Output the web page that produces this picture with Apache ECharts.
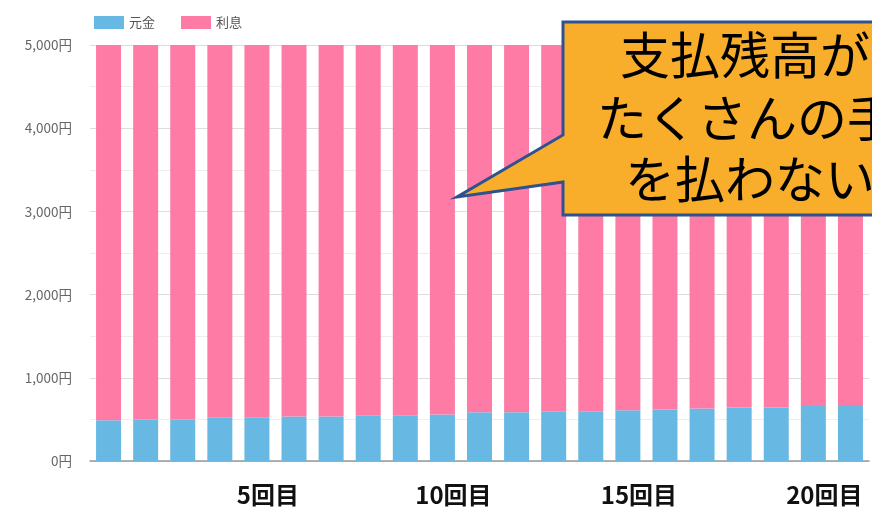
<!DOCTYPE html>
<html><head><meta charset="utf-8">
<script src="https://cdn.jsdelivr.net/npm/echarts@6/dist/echarts.min.js"></script>
<style>html,body{margin:0;padding:0;background:#fff}#c{width:872px;height:511px}</style>
</head><body><div id="c"></div>
<script>
const categories = ['1回目','2回目','3回目','4回目','5回目','6回目','7回目','8回目','9回目','10回目','11回目','12回目','13回目','14回目','15回目','16回目','17回目','18回目','19回目','20回目','21回目'];
const principal = [490,500,500,520,520,535,535,545,545,560,585,585,597,597,610,620,630,642,642,660,672];
const interest = [4510,4500,4500,4480,4480,4465,4465,4455,4455,4440,4415,4415,4403,4403,4390,4380,4370,4358,4358,4340,4328];
const yTicks = [0,1000,2000,3000,4000,5000];
const calloutLines = ['支払残高が','たくさんの手','を払わない'];

const chart = echarts.init(document.getElementById('c'));
const jp = '"Noto Sans CJK JP", sans-serif';
chart.setOption({
  animation:false,
  legend:{left:89,top:11,itemWidth:30,itemHeight:13,itemGap:26,icon:'rect',
    textStyle:{fontSize:13,color:'#555',fontFamily:jp},
    data:['元金','利息']},
  grid:{left:90,right:3,top:45,bottom:50},
  xAxis:{type:'category',data:categories,
    axisLine:{lineStyle:{color:'#999',width:1.5}},axisTick:{show:false},
    axisLabel:{interval:(i)=> (i+1)%5===0, margin:22,fontSize:24,fontWeight:'bold',color:'#111',fontFamily:jp,
      formatter:(v)=>v, padding:[0,0,0,22]}},
  yAxis:{type:'value',min:yTicks[0],max:yTicks[yTicks.length-1],interval:1000,
    axisLine:{show:false},axisTick:{show:false},
    axisLabel:{margin:18,fontSize:13.5,color:'#666',fontFamily:jp,
      formatter:(v)=>String(v).replace(/\B(?=(\d{3})+(?!\d))/g,',')+'円'},
    splitLine:{lineStyle:{color:'#ddd'}},
    minorTick:{show:false,splitNumber:2},
    minorSplitLine:{show:true,lineStyle:{color:'#eee'}}},
  series:[
    {name:'元金',type:'bar',stack:'t',data:principal,barWidth:25,itemStyle:{color:'#68b8e4'}},
    {name:'利息',type:'bar',stack:'t',data:interest,barWidth:25,itemStyle:{color:'#fd7ba5'}}
  ],
  graphic:[
    {type:'polygon',z:100,shape:{points:[[563,22],[900,22],[900,215],[563,215],[563,182],[457,197],[563,135]]},
      style:{fill:'#f8ae2b',stroke:'#2f528f',lineWidth:3,lineJoin:'miter'}},
    {type:'text',z:101,left:620,top:30,style:{text:calloutLines[0],font:'50px "Noto Sans CJK JP"',fill:'#000'}},
    {type:'text',z:101,left:597,top:93,style:{text:calloutLines[1],font:'50px "Noto Sans CJK JP"',fill:'#000'}},
    {type:'text',z:101,left:625,top:154,style:{text:calloutLines[2],font:'50px "Noto Sans CJK JP"',fill:'#000'}}
  ]
});
</script></body></html>
